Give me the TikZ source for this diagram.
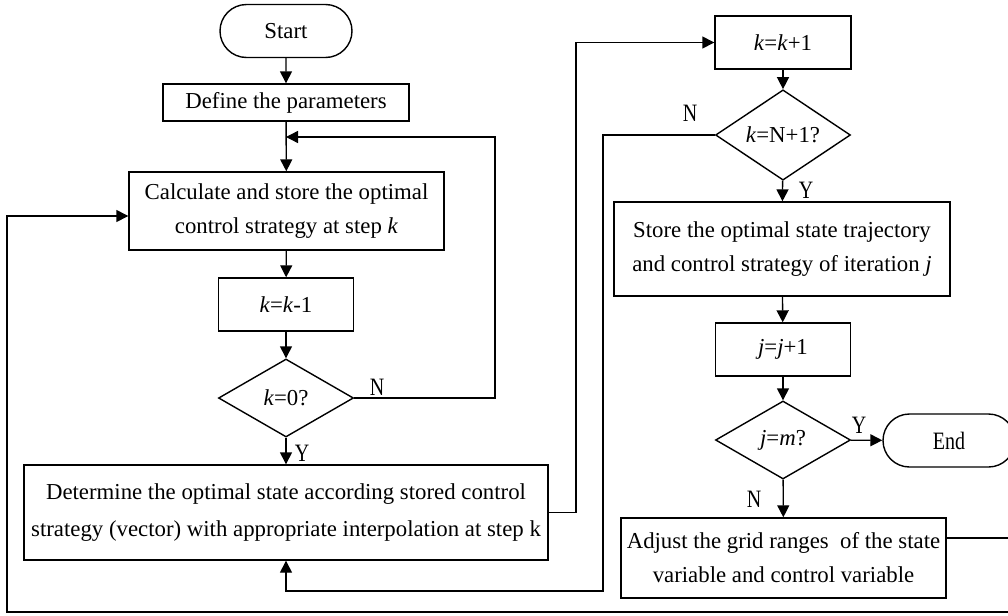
\documentclass[tikz,border=0pt]{standalone}
\usepackage{fontspec}
\setmainfont{Liberation Serif}
\newfontfamily\narrowfont[FakeStretch=0.8]{Liberation Serif}
\usetikzlibrary{shapes.geometric,shapes.misc,arrows.meta}
\begin{document}
\begin{tikzpicture}[x=0.5pt,y=-0.5pt,
  line width=0.7pt,
  box/.style={draw, rectangle, inner sep=1pt, align=center, font=\fontsize{11.4}{17}\selectfont},
  term/.style={draw, rounded rectangle, inner sep=1pt, minimum width=68pt, minimum height=26.5pt},
  dec/.style={draw, diamond, inner sep=0pt, minimum width=67.5pt, minimum height=39pt, font=\fontsize{11.4}{13}\selectfont},
  arr/.style={-{Triangle[length=6pt,width=6pt]}},
  lab/.style={font=\narrowfont\fontsize{12.5}{12.5}\selectfont, inner sep=0pt}
]
\useasboundingbox (0,0) rectangle (1008,616);
% left column
\node[term, font=\fontsize{11.4}{13}\selectfont] (start) at (286,31) {Start};
\node[box, minimum width=123pt, minimum height=18.5pt] (define) at (286,102.5) {Define the parameters};
\node[box, minimum width=157.5pt, minimum height=39pt] (calc) at (286.5,211) {Calculate and store the optimal\\control strategy at step \textit{k}};
\node[box, minimum width=67.5pt, minimum height=26.5pt] (kminus) at (286,304.5) {\textit{k}=\textit{k}-1};
\node[dec] (d1) at (286,398) {\textit{k}=0?};
\node[box, minimum width=262pt, minimum height=47.5pt, font=\fontsize{11.4}{18.5}\selectfont] (det) at (286,512.5) {Determine the optimal state according stored control\\strategy (vector) with appropriate interpolation at step k};
% right column
\node[box, minimum width=68pt, minimum height=26.5pt] (kplus) at (783,42.5) {\textit{k}=\textit{k}+1};
\node[dec] (d2) at (783,135) {\textit{k}=N+1?};
\node[box, minimum width=168pt, minimum height=47pt] (store) at (782,249) {Store the optimal state trajectory\\and control strategy of iteration \textit{j}};
\node[box, minimum width=67.5pt, minimum height=26.5pt] (jplus) at (783,349.5) {\textit{j}=\textit{j}+1};
\node[dec] (d3) at (783,440) {\textit{j}=\textit{m}?};
\node[term, font=\narrowfont\fontsize{12.5}{13}\selectfont] (end) at (949,440.5) {End};
\node[box, minimum width=162.5pt, minimum height=40pt] (adj) at (783.5,558) {Adjust the grid ranges\ \ of the state\\variable and control variable};
% labels
\node[lab] (y1) at (302,453) {Y};
\node[lab] (n1) at (377,387) {N};
\node[lab] (n2) at (690,113) {N};
\node[lab] (y2) at (806,190) {Y};
\node[lab] (y3) at (859,425) {Y};
\node[lab] (n3) at (754,499) {N};
% connectors
\coordinate (J) at (286,137);
\draw[arr] (start) -- (define);
\draw[arr] (define) -- (calc);
\draw[arr] (calc) -- (kminus);
\draw[arr] (kminus) -- (d1);
\draw[arr] (d1) -- (det);
\draw[arr] (d1.east) -- (495,398) |- (J);
\draw[arr] (det.east) -- (576,512.5) |- (kplus.west);
\draw[arr] (kplus) -- (d2);
\draw[arr] (d2) -- (store);
\draw[arr] (d2.west) -| (603,591) -| (det.south);
\draw[arr] (store) -- (jplus);
\draw[arr] (jplus) -- (d3);
\draw[arr] (d3) -- (end);
\draw[arr] (d3) -- (adj);
\draw[arr] ([yshift=10pt]adj.east) -- (1020,538) -- (1020,612) -- (7,612) |- ([yshift=-2.5pt]calc.west);
\end{tikzpicture}
\end{document}
